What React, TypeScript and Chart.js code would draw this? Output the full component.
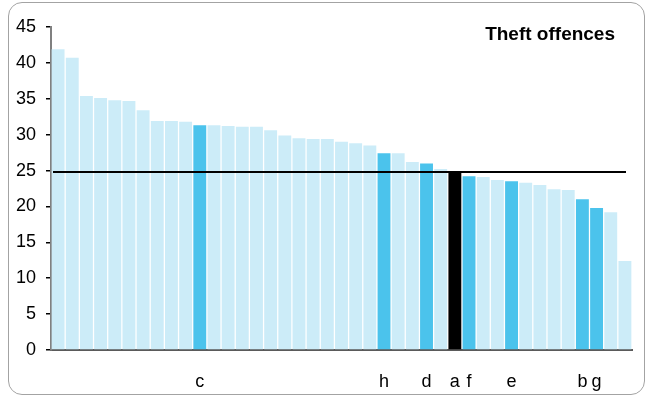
import React, { useEffect, useRef } from "react";
import { Chart, registerables } from "chart.js";

Chart.register(...registerables);

const categories: string[] = [
  "", "", "", "", "", "", "", "", "", "", "c",
  "", "", "", "", "", "", "", "", "", "", "", "",
  "h", "", "", "d", "", "a", "f", "", "", "e", "", "", "", "", "b", "g", "", "",
];

const values: number[] = [
  41.9, 40.7, 35.4, 35.1, 34.8, 34.7, 33.4, 31.9, 31.9, 31.8, 31.3,
  31.3, 31.2, 31.1, 31.1, 30.6, 29.9, 29.5, 29.4, 29.4, 29.0, 28.8, 28.5,
  27.4, 27.4, 26.2, 26.0, 25.2, 24.9, 24.2, 24.1, 23.7, 23.5, 23.3, 23.0, 22.4, 22.3, 21.0, 19.8, 19.2, 12.4,
];

const highlighted: string[] = ["c", "h", "d", "f", "e", "b", "g"];
const reference: string = "a";
const averageValue: number = 24.8;
const chartTitle = "Theft offences";
const yTicks: number[] = [0, 5, 10, 15, 20, 25, 30, 35, 40, 45];

const LIGHT = "#CCECF8";
const MID = "#4BC3EC";
const DARK = "#000000";
const FONT = "'Liberation Sans', Arial, sans-serif";

export default function App() {
  const canvasRef = useRef<HTMLCanvasElement | null>(null);

  useEffect(() => {
    const canvas = canvasRef.current;
    if (!canvas) return;

    const colors = categories.map((c) =>
      c === reference ? DARK : highlighted.includes(c) ? MID : LIGHT
    );

    const overlay = {
      id: "overlay",
      afterDatasetsDraw(chart: any) {
        const { ctx, chartArea, scales } = chart;
        const y = scales.y.getPixelForValue(averageValue);
        ctx.save();
        ctx.strokeStyle = "#000";
        ctx.lineWidth = 2;
        ctx.beginPath();
        ctx.moveTo(chartArea.left + 2, y);
        ctx.lineTo(chartArea.right - 6, y);
        ctx.stroke();
        ctx.fillStyle = "#000";
        ctx.font = `bold 19px ${FONT}`;
        ctx.textAlign = "right";
        ctx.textBaseline = "middle";
        ctx.fillText(chartTitle, chartArea.right - 17, chartArea.top + 8);
        ctx.restore();
      },
    };

    const chart = new Chart(canvas, {
      type: "bar",
      data: {
        labels: categories,
        datasets: [
          {
            data: values,
            backgroundColor: colors,
            borderWidth: 0,
            categoryPercentage: 1,
            barPercentage: 0.91,
          },
        ],
      },
      options: {
        animation: false,
        responsive: false,
        maintainAspectRatio: false,
        layout: { padding: { top: 27, left: 0, right: 16, bottom: 0 } },
        plugins: {
          legend: { display: false },
          tooltip: { enabled: false },
          title: { display: false },
        },
        scales: {
          x: {
            grid: { display: true, drawOnChartArea: false, drawTicks: false },
            border: { display: true, color: "#5a5a5a", width: 2 },
            ticks: {
              autoSkip: false,
              maxRotation: 0,
              minRotation: 0,
              padding: 21,
              color: "#000",
              font: { family: FONT, size: 18 },
            },
            afterFit(scale: any) {
              scale.height = 48;
            },
          },
          y: {
            min: 0,
            max: 45,
            afterBuildTicks(scale: any) {
              scale.ticks = yTicks.map((v) => ({ value: v }));
            },
            grid: {
              display: true,
              drawOnChartArea: false,
              drawTicks: true,
              tickLength: 5,
              color: "#000",
              lineWidth: 1.5,
            },
            border: { display: true, color: "#808080", width: 2 },
            ticks: {
              padding: 10,
              color: "#000",
              font: { family: FONT, size: 18 },
            },
            afterFit(scale: any) {
              scale.width = 51;
            },
          },
        },
      },
      plugins: [overlay],
    });

    return () => chart.destroy();
  }, []);

  return (
    <div
      style={{
        position: "fixed",
        left: 0,
        top: 0,
        width: 648,
        height: 398,
        background: "#fff",
      }}
    >
      <canvas ref={canvasRef} width={648} height={398} style={{ display: "block" }} />
      <div
        style={{
          position: "absolute",
          left: 8,
          top: 2,
          width: 637,
          height: 393,
          border: "1.5px solid #a3a3a3",
          borderRadius: 14,
          boxSizing: "border-box",
          pointerEvents: "none",
        }}
      />
    </div>
  );
}
